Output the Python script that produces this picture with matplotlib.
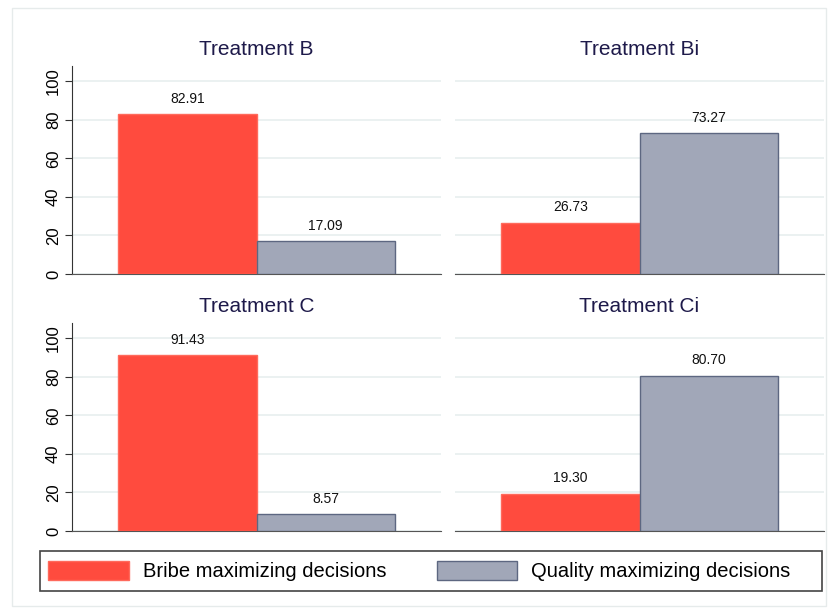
import matplotlib.pyplot as plt
from matplotlib.patches import Rectangle, Patch

plt.rcParams['font.family'] = ['Liberation Sans', 'DejaVu Sans']

# data
panels = ['Treatment B', 'Treatment Bi', 'Treatment C', 'Treatment Ci']
bribe = [82.91, 26.73, 91.43, 19.30]
quality = [17.09, 73.27, 8.57, 80.70]
series_names = ['Bribe maximizing decisions', 'Quality maximizing decisions']
yticks = [0, 20, 40, 60, 80, 100]

red = '#ff4b3e'
red_edge = '#ff6a5c'
gray = '#a1a7b8'
gray_edge = '#5d6781'
title_col = '#1e1a4a'

fig = plt.figure(figsize=(8.38, 6.13), dpi=100)
W, H = 838, 613

# faint outer frame
fig.patches.append(Rectangle((12 / W, 1 - 606 / H), (826 - 12) / W, (606 - 8) / H,
                             transform=fig.transFigure, fill=False,
                             edgecolor='#e6ebeb', lw=1))

# axes boxes in pixels: (left, top, right, bottom)
boxes = [(72, 66, 441, 274), (455, 66, 824, 274),
         (72, 323, 441, 531), (455, 323, 824, 531)]

for i, (l, t, r, b) in enumerate(boxes):
    ax = fig.add_axes([l / W, 1 - b / H, (r - l) / W, (b - t) / H])
    vals = [bribe[i], quality[i]]
    ax.bar([0, 1], vals, width=1.0, color=[red, gray],
           edgecolor=[red_edge, gray_edge], linewidth=1, zorder=3)
    for x, v in zip([0, 1], vals):
        ax.annotate('%.2f' % v, (x, v), xytext=(0, 6), textcoords='offset points',
                    ha='center', va='bottom', fontsize=10, color='#111111')
    ax.set_xlim(-0.5 - 46 / 138, 1.5 + 46 / 138)
    ax.set_ylim(0, 108)
    ax.set_yticks(yticks)
    ax.grid(axis='y', color='#e8efef', lw=1.2, zorder=0)
    ax.set_xticks([])
    ax.set_title(panels[i], fontsize=15, color=title_col, pad=8)
    for s in ['top', 'right']:
        ax.spines[s].set_visible(False)
    ax.spines['bottom'].set_color('#555555')
    if i % 2 == 0:
        ax.spines['left'].set_color('#333333')
        ax.tick_params(axis='y', length=5, color='#333333', labelsize=12,
                       labelrotation=90, pad=3)
        for lab in ax.get_yticklabels():
            lab.set_verticalalignment('center')
    else:
        ax.spines['left'].set_visible(False)
        ax.tick_params(axis='y', length=0, labelleft=False)

# legend frame drawn separately so it spans the full width
fig.patches.append(Rectangle((40 / W, 1 - 591 / H), (822 - 40) / W, 40 / H,
                             transform=fig.transFigure, fill=False,
                             edgecolor='#444444', lw=1.2))
handles = [Patch(facecolor=red, edgecolor=red_edge),
           Patch(facecolor=gray, edgecolor=gray_edge)]
fig.legend(handles, series_names, loc='center left',
           bbox_to_anchor=(40 / W, 1 - 591 / H, (822 - 40) / W, 40 / H),
           ncol=2, fontsize=14.5, frameon=False,
           handlelength=4, handleheight=1.1, handletextpad=0.7,
           columnspacing=2.5, borderpad=0.4, borderaxespad=0)

fig.savefig('out.png', dpi=100)
